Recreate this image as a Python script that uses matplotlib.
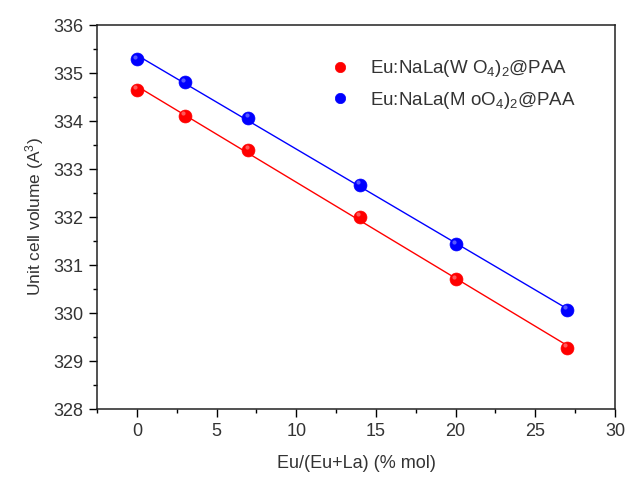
import numpy as np
import matplotlib
matplotlib.use("Agg")
import matplotlib.pyplot as plt
from matplotlib.ticker import MultipleLocator

plt.rcParams['font.family'] = ['Liberation Sans', 'DejaVu Sans']
plt.rcParams['mathtext.fontset'] = 'custom'
plt.rcParams['mathtext.rm'] = 'Liberation Sans'
plt.rcParams['mathtext.it'] = 'Liberation Sans'

eu_content = [0, 3, 7, 14, 20, 27]
vol_wo4 = [334.65, 334.11, 333.40, 332.01, 330.70, 329.28]
vol_moo4 = [335.29, 334.81, 334.07, 332.67, 331.43, 330.07]
labels = [r"Eu:NaLa(W O$_\mathregular{4}$)$_\mathregular{2}$@PAA",
          r"Eu:NaLa(M oO$_\mathregular{4}$)$_\mathregular{2}$@PAA"]
colors = ["#ff0000", "#0000ff"]

fig = plt.figure(figsize=(6.3, 4.83), dpi=100)
ax = fig.add_axes([97/630, 1-409/483, (615-97)/630, (409-25)/483])

txt = "#333333"
for vals, lab, col in zip([vol_wo4, vol_moo4], labels, colors):
    x = np.array(eu_content, dtype=float)
    y = np.array(vals)
    k, b = np.polyfit(x, y, 1)
    xf = np.array([x.min(), x.max()])
    ax.plot(xf, k*xf + b, color=col, lw=1.0, zorder=2)
    ax.plot(x, y, 'o', color=col, ms=9.3, mec=col, mew=0.5, label=lab, zorder=3)
    ax.plot(x - 0.12, y + 0.05, 'o', color='white', alpha=0.35, ms=3, mew=0, zorder=4)

ax.set_xlim(-2.5, 30)
ax.set_ylim(328, 336)
ax.xaxis.set_major_locator(MultipleLocator(5))
ax.xaxis.set_minor_locator(MultipleLocator(2.5))
ax.yaxis.set_major_locator(MultipleLocator(1))
ax.yaxis.set_minor_locator(MultipleLocator(0.5))
ax.tick_params(which='major', direction='out', length=6, width=1, labelsize=13,
               labelcolor=txt, top=False, right=False, pad=4)
ax.tick_params(which='minor', direction='out', length=3, width=1, top=False, right=False)
for s in ax.spines.values():
    s.set_linewidth(1.1)
    s.set_color('#222222')

ax.set_xlabel("Eu/(Eu+La) (% mol)", fontsize=13, color=txt, labelpad=11)
ax.set_ylabel(r"Unit cell volume (A$^\mathregular{3}$)", fontsize=12.5, color=txt, labelpad=5)

leg = ax.legend(loc='upper left', bbox_to_anchor=(0.40, 0.957), frameon=False,
                fontsize=13.5, handletextpad=0.6, labelspacing=0.55, markerscale=0.8)
for t in leg.get_texts():
    t.set_color(txt)

fig.savefig("out.png", dpi=100)
